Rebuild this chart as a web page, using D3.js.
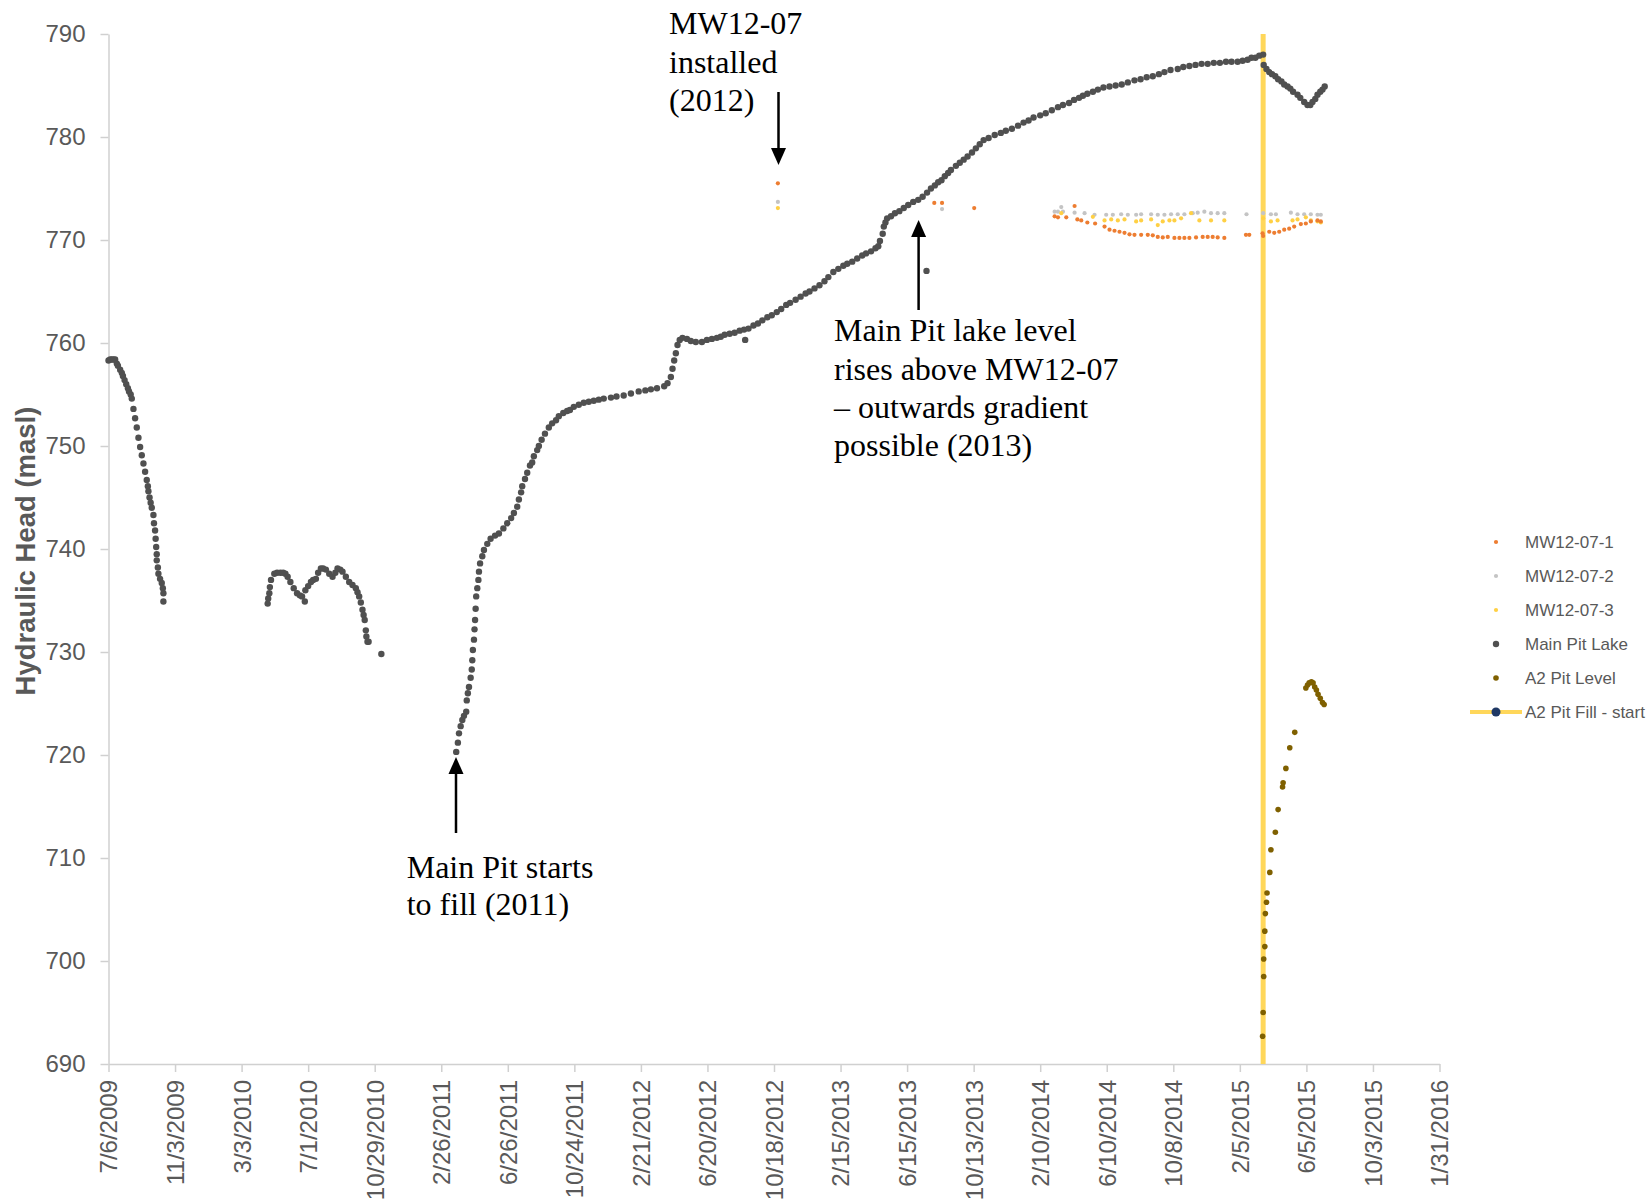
<!DOCTYPE html>
<html>
<head>
<meta charset="utf-8">
<script src="https://cdn.jsdelivr.net/npm/d3@7"></script>
<style>
  body { margin: 0; background: #fff; }
</style>
</head>
<body>
<script>

// ---- data ----
var yTicks = [690, 700, 710, 720, 730, 740, 750, 760, 770, 780, 790];

var xTickDates = ["2009-07-06", "2009-11-03", "2010-03-03", "2010-07-01", "2010-10-29",
  "2011-02-26", "2011-06-26", "2011-10-24", "2012-02-21", "2012-06-20", "2012-10-18",
  "2013-02-15", "2013-06-15", "2013-10-13", "2014-02-10", "2014-06-10", "2014-10-08",
  "2015-02-05", "2015-06-05", "2015-10-03", "2016-01-31"];

var seriesNames = ["MW12-07-1", "MW12-07-2", "MW12-07-3", "Main Pit Lake", "A2 Pit Level", "A2 Pit Fill - start"];

var mw1 = [["2012-10-25",775.5],["2013-08-03",773.6],["2013-08-17",773.6],["2013-10-14",773.1],
  ["2014-03-08",772.3],["2014-03-14",772.2],["2014-03-29",772.2],["2014-04-13",773.3],["2014-04-18",772.0],
  ["2014-04-25",771.9],["2014-05-06",771.7],["2014-05-20",771.6],["2014-06-06",771.3],["2014-06-15",771.0],
  ["2014-06-24",770.9],["2014-07-03",770.8],["2014-07-12",770.7],["2014-07-21",770.55],["2014-07-30",770.5],
  ["2014-08-11",770.5],["2014-08-23",770.5],["2014-09-01",770.45],["2014-09-10",770.3],["2014-09-19",770.25],
  ["2014-09-28",770.3],["2014-10-10",770.2],["2014-10-19",770.2],["2014-10-28",770.2],["2014-11-06",770.2],
  ["2014-11-18",770.25],["2014-11-30",770.3],["2014-12-09",770.3],["2014-12-18",770.3],["2014-12-27",770.25],
  ["2015-01-08",770.2],["2015-02-16",770.5],["2015-02-22",770.5],["2015-03-18",770.65],["2015-03-19",770.4],
  ["2015-03-30",770.8],["2015-04-08",770.7],["2015-04-17",770.8],["2015-04-26",771.0],["2015-05-05",771.1],
  ["2015-05-14",771.3],["2015-05-26",771.55],["2015-06-04",771.6],["2015-06-13",771.8],["2015-06-25",771.9],
  ["2015-07-01",771.8]];

var mw2 = [["2012-10-25",773.7],["2013-08-17",773.0],
  ["2014-03-08",772.75],["2014-03-14",772.75],["2014-03-20",773.2],["2014-03-23",772.75],["2014-04-13",772.65],
  ["2014-05-01",772.6],["2014-05-19",772.45],["2014-06-09",772.45],["2014-06-21",772.45],["2014-07-06",772.5],
  ["2014-07-18",772.45],["2014-08-02",772.45],["2014-08-11",772.5],["2014-08-29",772.5],["2014-09-10",772.45],
  ["2014-09-22",772.45],["2014-10-04",772.5],["2014-10-16",772.5],["2014-10-28",772.5],["2014-11-12",772.6],
  ["2014-11-21",772.65],["2014-12-03",772.75],["2014-12-15",772.6],["2014-12-27",772.6],["2015-01-08",772.6],
  ["2015-02-17",772.5],["2015-03-19",772.6],["2015-04-02",772.5],["2015-04-11",772.5],["2015-05-08",772.65],
  ["2015-05-20",772.5],["2015-06-01",772.5],["2015-06-13",772.5],["2015-06-25",772.45],["2015-07-01",772.45]];

var mw3 = [["2012-10-25",773.1],
  ["2014-03-20",772.6],["2014-05-16",772.25],["2014-06-06",771.9],["2014-06-18",772.0],["2014-06-30",771.9],
  ["2014-07-12",772.0],["2014-08-02",771.8],["2014-08-11",771.9],["2014-08-29",772.0],["2014-09-10",771.45],
  ["2014-09-19",771.8],["2014-10-01",771.9],["2014-10-10",771.9],["2014-10-22",772.1],["2014-11-09",772.6],
  ["2014-11-24",771.9],["2014-12-15",771.9],["2015-01-08",771.9],["2015-03-19",772.1],["2015-04-02",771.8],
  ["2015-04-14",771.9],["2015-05-11",771.9],["2015-05-20",772.0],["2015-06-04",772.2],["2015-06-13",771.9],
  ["2015-06-25",771.8],["2015-07-01",771.7]];

var mainPitLake = [
  ["2009-07-06",758.3],["2009-07-09",758.4],["2009-07-12",758.4],["2009-07-15",758.4],["2009-07-18",758.4],
  ["2009-07-21",758.0],["2009-07-23",757.8],["2009-07-27",757.4],["2009-07-30",757.1],["2009-08-01",756.8],
  ["2009-08-04",756.4],["2009-08-07",756.0],["2009-08-10",755.6],["2009-08-12",755.3],["2009-08-15",755.0],
  ["2009-08-17",754.6],["2009-08-20",753.6],["2009-08-23",752.7],["2009-08-26",751.8],["2009-08-29",750.8],
  ["2009-09-01",749.9],["2009-09-04",749.1],["2009-09-07",748.3],["2009-09-10",747.5],["2009-09-13",746.7],
  ["2009-09-15",746.1],["2009-09-16",745.6],["2009-09-18",745.0],["2009-09-20",744.5],["2009-09-22",744.0],
  ["2009-09-25",743.3],["2009-09-26",742.5],["2009-09-28",741.8],["2009-09-29",741.0],["2009-09-30",740.2],
  ["2009-10-01",739.5],["2009-10-01",738.9],["2009-10-03",738.2],["2009-10-04",737.6],["2009-10-07",737.1],
  ["2009-10-10",736.7],["2009-10-12",736.2],["2009-10-13",735.7],["2009-10-13",734.9],
  ["2010-04-19",734.7],["2010-04-20",735.2],["2010-04-22",735.7],["2010-04-23",736.3],["2010-04-25",737.0],
  ["2010-05-01",737.6],["2010-05-06",737.7],["2010-05-12",737.7],["2010-05-17",737.7],["2010-05-21",737.6],
  ["2010-05-25",737.3],["2010-05-30",736.8],["2010-06-05",736.2],["2010-06-11",735.7],["2010-06-16",735.5],
  ["2010-06-20",735.4],["2010-06-25",734.9],["2010-06-26",736.0],["2010-07-01",736.4],["2010-07-06",736.8],
  ["2010-07-10",737.0],["2010-07-15",737.1],["2010-07-19",737.7],["2010-07-24",738.1],["2010-07-28",738.1],
  ["2010-08-02",738.0],["2010-08-08",737.6],["2010-08-14",737.3],["2010-08-19",737.7],["2010-08-23",738.1],
  ["2010-08-28",738.0],["2010-09-01",737.8],["2010-09-07",737.3],["2010-09-13",736.8],["2010-09-19",736.5],
  ["2010-09-25",736.2],["2010-09-28",735.8],["2010-10-01",735.4],["2010-10-04",734.8],["2010-10-07",734.1],
  ["2010-10-09",733.6],["2010-10-11",733.1],["2010-10-13",732.1],["2010-10-14",731.5],["2010-10-16",731.0],
  ["2010-10-18",731.0],["2010-11-10",729.8],
  ["2011-03-25",720.3],["2011-03-28",721.2],["2011-03-30",722.1],["2011-04-02",722.8],["2011-04-05",723.4],
  ["2011-04-08",723.8],["2011-04-12",724.2],["2011-04-13",725.3],["2011-04-15",726.0],["2011-04-17",726.6],
  ["2011-04-20",727.5],["2011-04-22",728.3],["2011-04-23",729.2],["2011-04-24",730.2],["2011-04-26",731.2],
  ["2011-04-27",732.2],["2011-04-28",733.1],["2011-04-29",734.2],["2011-04-30",735.4],["2011-05-02",736.2],
  ["2011-05-04",737.0],["2011-05-05",737.8],["2011-05-07",738.6],["2011-05-11",739.3],["2011-05-14",739.9],
  ["2011-05-20",740.5],["2011-05-26",741.0],["2011-06-03",741.3],["2011-06-10",741.5],["2011-06-18",742.0],
  ["2011-06-25",742.5],["2011-07-02",743.0],["2011-07-07",743.5],["2011-07-13",744.1],["2011-07-16",744.8],
  ["2011-07-20",745.5],["2011-07-22",746.1],["2011-07-27",746.8],["2011-07-31",747.4],["2011-08-05",748.1],
  ["2011-08-09",748.4],["2011-08-12",749.0],["2011-08-18",749.6],["2011-08-21",750.0],["2011-08-26",750.6],
  ["2011-09-01",751.2],["2011-09-08",751.8],["2011-09-14",752.2],["2011-09-21",752.5],["2011-09-26",752.9],
  ["2011-10-04",753.2],["2011-10-11",753.4],["2011-10-16",753.5],["2011-10-23",753.8],["2011-11-01",754.0],
  ["2011-11-10",754.2],["2011-11-19",754.3],["2011-11-28",754.4],["2011-12-07",754.5],["2011-12-16",754.6],
  ["2011-12-29",754.7],["2012-01-08",754.8],["2012-01-21",754.9],["2012-02-03",755.1],["2012-02-17",755.3],
  ["2012-02-29",755.4],["2012-03-10",755.5],["2012-03-21",755.6],["2012-04-03",755.8],["2012-04-09",756.1],
  ["2012-04-15",756.7],["2012-04-18",757.5],["2012-04-21",758.3],["2012-04-24",759.0],["2012-04-27",759.8],
  ["2012-05-01",760.3],["2012-05-06",760.5],["2012-05-14",760.4],["2012-05-21",760.2],["2012-05-30",760.1],
  ["2012-06-10",760.1],["2012-06-19",760.3],["2012-06-28",760.4],["2012-07-07",760.5],["2012-07-14",760.6],
  ["2012-07-21",760.8],["2012-07-30",760.9],["2012-08-08",761.0],["2012-08-17",761.2],["2012-08-25",761.3],
  ["2012-08-27",760.3],["2012-09-02",761.4],["2012-09-11",761.7],["2012-09-19",761.9],["2012-09-27",762.2],
  ["2012-10-06",762.5],["2012-10-14",762.7],["2012-10-23",763.0],["2012-10-31",763.3],["2012-11-09",763.7],
  ["2012-11-16",763.9],["2012-11-26",764.2],["2012-12-05",764.5],["2012-12-14",764.8],["2012-12-21",765.0],
  ["2012-12-30",765.3],["2013-01-08",765.6],["2013-01-17",766.0],["2013-01-24",766.4],["2013-02-02",766.9],
  ["2013-02-11",767.2],["2013-02-20",767.5],["2013-02-27",767.7],["2013-03-08",767.9],["2013-03-17",768.2],
  ["2013-03-26",768.5],["2013-04-02",768.7],["2013-04-11",768.9],["2013-04-19",769.2],["2013-04-24",769.4],
  ["2013-04-27",769.9],["2013-05-02",770.6],["2013-05-04",771.3],["2013-05-07",771.7],["2013-05-10",772.1],
  ["2013-05-17",772.3],["2013-05-24",772.6],["2013-06-01",772.8],["2013-06-09",773.1],["2013-06-17",773.4],
  ["2013-06-26",773.7],["2013-07-05",773.9],["2013-07-13",774.2],["2013-07-20",767.0],["2013-07-21",774.6],
  ["2013-07-28",775.0],["2013-08-04",775.3],["2013-08-10",775.6],["2013-08-16",775.8],["2013-08-22",776.2],
  ["2013-08-28",776.5],["2013-09-02",776.8],["2013-09-11",777.2],["2013-09-18",777.5],["2013-09-25",777.8],
  ["2013-10-02",778.1],["2013-10-10",778.5],["2013-10-17",778.9],["2013-10-24",779.3],["2013-10-31",779.7],
  ["2013-11-09",779.9],["2013-11-20",780.2],["2013-12-01",780.4],["2013-12-10",780.6],["2013-12-21",780.8],
  ["2014-01-01",781.1],["2014-01-11",781.4],["2014-01-20",781.6],["2014-01-29",781.9],["2014-02-10",782.1],
  ["2014-02-20",782.3],["2014-03-03",782.6],["2014-03-14",782.9],["2014-03-23",783.1],["2014-04-03",783.3],
  ["2014-04-12",783.6],["2014-04-21",783.8],["2014-04-28",784.0],["2014-05-06",784.2],["2014-05-16",784.4],
  ["2014-05-25",784.6],["2014-06-04",784.8],["2014-06-15",784.9],["2014-06-26",785.0],["2014-07-07",785.1],
  ["2014-07-18",785.3],["2014-07-30",785.5],["2014-08-10",785.6],["2014-08-21",785.8],["2014-09-01",785.9],
  ["2014-09-12",786.1],["2014-09-22",786.3],["2014-10-03",786.5],["2014-10-16",786.6],["2014-10-26",786.8],
  ["2014-11-06",786.9],["2014-11-17",787.0],["2014-11-28",787.1],["2014-12-09",787.1],["2014-12-20",787.2],
  ["2014-12-31",787.2],["2015-01-11",787.3],["2015-01-21",787.3],["2015-02-01",787.3],["2015-02-10",787.4],
  ["2015-02-19",787.5],["2015-02-26",787.7],["2015-03-05",787.7],["2015-03-12",787.9],["2015-03-19",788.0],
  ["2015-03-20",787.0],["2015-03-25",786.6],["2015-03-30",786.3],["2015-04-04",786.1],["2015-04-10",785.9],
  ["2015-04-15",785.6],["2015-04-21",785.4],["2015-04-26",785.1],["2015-05-02",784.9],["2015-05-07",784.7],
  ["2015-05-12",784.4],["2015-05-20",784.1],["2015-05-25",783.8],["2015-06-01",783.4],["2015-06-07",783.1],
  ["2015-06-12",783.1],["2015-06-16",783.4],["2015-06-21",783.7],["2015-06-25",784.1],["2015-06-30",784.4],
  ["2015-07-04",784.6],["2015-07-08",784.9]];

var a2PitLevel = [["2015-03-18",692.7],["2015-03-19",695.0],["2015-03-20",698.5],["2015-03-20",700.2],
  ["2015-03-22",701.4],["2015-03-22",702.9],["2015-03-23",704.6],["2015-03-25",705.7],["2015-03-26",706.6],
  ["2015-03-31",708.6],["2015-04-02",710.8],["2015-04-10",712.5],["2015-04-15",714.7],["2015-04-23",716.9],
  ["2015-04-24",717.3],["2015-04-29",718.7],["2015-05-06",720.7],["2015-05-15",722.2],["2015-06-04",726.5],
  ["2015-06-07",726.8],["2015-06-10",727.0],["2015-06-14",727.1],["2015-06-17",727.0],["2015-06-20",726.6],
  ["2015-06-23",726.3],["2015-06-26",725.9],["2015-06-30",725.5],["2015-07-04",725.1],["2015-07-07",724.9]];

var a2FillStart = [["2015-03-19",690],["2015-03-19",790]];

// ---- layout ----
var W = 1652, H = 1204;
var plot = {left: 108.5, right: 1439.5, top: 34, bottom: 1064};
var labelFont = "'Liberation Sans', Arial, sans-serif";
var noteFont = "'Liberation Serif', 'Times New Roman', serif";

var styles = {
  "MW12-07-1": {color: "#ED7D31", r: 2.1},
  "MW12-07-2": {color: "#C4C4C4", r: 2.1},
  "MW12-07-3": {color: "#FFD044", r: 2.1},
  "Main Pit Lake": {color: "#505050", r: 3.2},
  "A2 Pit Level": {color: "#7F6000", r: 2.8},
  "A2 Pit Fill - start": {color: "#FFD75A", marker: "#1F3864"}
};

var parseDate = d3.utcParse("%Y-%m-%d");

var svg = d3.select("body").append("svg")
  .attr("width", W)
  .attr("height", H)
  .style("background", "#fff");

var x = d3.scaleUtc()
  .domain([parseDate(xTickDates[0]), parseDate(xTickDates[xTickDates.length - 1])])
  .range([plot.left, plot.right]);

var y = d3.scaleLinear()
  .domain([yTicks[0], yTicks[yTicks.length - 1]])
  .range([plot.bottom, plot.top]);

// Y axis
var yAxis = svg.append("g")
  .attr("transform", "translate(" + plot.left + ",0)")
  .call(d3.axisLeft(y).tickValues(yTicks).tickSize(8).tickSizeOuter(0).tickPadding(15))
  .attr("font-family", labelFont)
  .attr("font-size", 24);
yAxis.selectAll("path, line").attr("stroke", "#d0d0d0").attr("stroke-width", 1.5);
yAxis.selectAll("text").attr("fill", "#595959");

// X axis
var xAxis = svg.append("g")
  .attr("transform", "translate(0," + plot.bottom + ")")
  .call(d3.axisBottom(x)
    .tickValues(xTickDates.map(parseDate))
    .tickSize(8).tickSizeOuter(0)
    .tickFormat(d3.utcFormat("%-m/%-d/%Y")))
  .attr("font-family", labelFont)
  .attr("font-size", 24);
xAxis.selectAll("path, line").attr("stroke", "#d0d0d0").attr("stroke-width", 1.5);
xAxis.selectAll("text")
  .attr("fill", "#595959")
  .attr("transform", "rotate(-90)")
  .attr("text-anchor", "end")
  .attr("x", -16)
  .attr("y", 0)
  .attr("dy", "0.35em");

// axis title
svg.append("text")
  .attr("transform", "translate(25,551) rotate(-90)")
  .attr("text-anchor", "middle")
  .attr("dy", "0.35em")
  .attr("font-family", labelFont)
  .attr("font-size", 27.5)
  .attr("font-weight", "bold")
  .attr("fill", "#595959")
  .text("Hydraulic Head (masl)");

// A2 pit fill start line
svg.append("path")
  .datum(a2FillStart)
  .attr("fill", "none")
  .attr("stroke", styles["A2 Pit Fill - start"].color)
  .attr("stroke-width", 5)
  .attr("d", d3.line()
    .x(function(d) { return x(parseDate(d[0])); })
    .y(function(d) { return y(d[1]); }));

// scatter series
function drawDots(data, name) {
  var s = styles[name];
  svg.append("g").selectAll("circle")
    .data(data)
    .enter()
    .append("circle")
      .attr("cx", function(d) { return x(parseDate(d[0])); })
      .attr("cy", function(d) { return y(d[1]); })
      .attr("r", s.r)
      .attr("fill", s.color);
}
drawDots(mw2, "MW12-07-2");
drawDots(mw3, "MW12-07-3");
drawDots(mw1, "MW12-07-1");
drawDots(mainPitLake, "Main Pit Lake");
drawDots(a2PitLevel, "A2 Pit Level");

// annotations
function arrow(xp, y1, y2) {
  // y2 is the tip
  var dir = y2 > y1 ? 1 : -1;
  var head = 17;
  svg.append("line")
    .attr("x1", xp).attr("x2", xp)
    .attr("y1", y1).attr("y2", y2 - dir * head + dir * 2)
    .attr("stroke", "#000").attr("stroke-width", 2.5);
  svg.append("path")
    .attr("d", "M" + (xp - 7.5) + "," + (y2 - dir * head) + "L" + (xp + 7.5) + "," + (y2 - dir * head) + "L" + xp + "," + y2 + "Z")
    .attr("fill", "#000");
}

function note(xp, baselines, lines) {
  var t = svg.append("text")
    .attr("font-family", noteFont)
    .attr("font-size", 32)
    .attr("fill", "#000");
  lines.forEach(function(line, i) {
    t.append("tspan").attr("x", xp).attr("y", baselines[i]).text(line);
  });
}

note(669, [33.5, 72.5, 111], ["MW12-07", "installed", "(2012)"]);
arrow(778.5, 92, 165);

note(834, [341, 379.5, 418, 456], ["Main Pit lake level", "rises above MW12-07", "\u2013 outwards gradient", "possible (2013)"]);
arrow(918.6, 310, 220);

note(406.7, [878, 915], ["Main Pit starts", "to fill (2011)"]);
arrow(456, 833, 757);

// legend
var legend = svg.append("g")
  .attr("font-family", labelFont)
  .attr("font-size", 17)
  .attr("fill", "#595959");

seriesNames.forEach(function(name, i) {
  var cy = 542 + i * 34;
  var s = styles[name];
  if (name === "A2 Pit Fill - start") {
    legend.append("line")
      .attr("x1", 1470).attr("x2", 1522)
      .attr("y1", cy).attr("y2", cy)
      .attr("stroke", s.color).attr("stroke-width", 4);
    legend.append("circle")
      .attr("cx", 1496).attr("cy", cy).attr("r", 4.5)
      .attr("fill", s.marker);
  } else {
    legend.append("circle")
      .attr("cx", 1496).attr("cy", cy).attr("r", s.r)
      .attr("fill", s.color);
  }
  legend.append("text")
    .attr("x", 1525)
    .attr("y", cy)
    .attr("dy", "0.35em")
    .text(name);
});

</script>
</body>
</html>
